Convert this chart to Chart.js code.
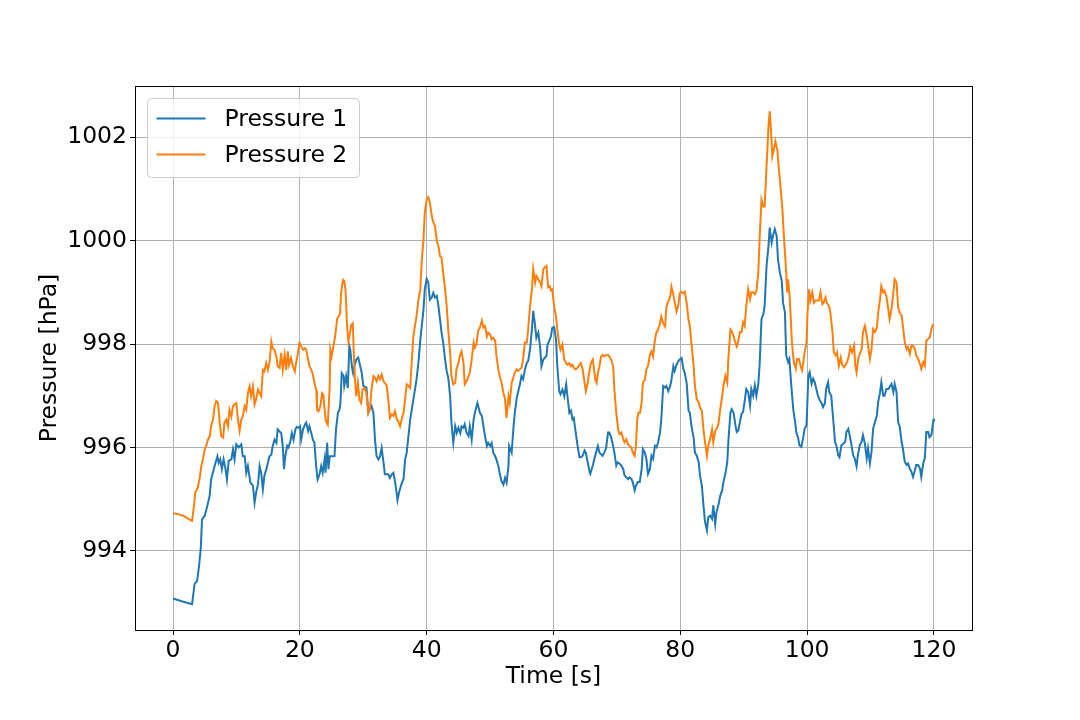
<!DOCTYPE html>
<html>
<head>
<meta charset="utf-8">
<title>Pressure</title>
<script src="https://cdn.jsdelivr.net/npm/chart.js@4.4.1/dist/chart.umd.min.js"></script>
<style>
  body { margin: 0; background: #fff; }
  #wrap { width: 1080px; height: 720px; }
</style>
</head>
<body>
<div id="wrap"><canvas id="pressureChart" width="1080" height="720"></canvas></div>
<script>
// values
const seriesNames = ["Pressure 1", "Pressure 2"];
const seriesColors = ["#1f77b4", "#ff7f0e"];
const xTitle = "Time [s]";
const yTitle = "Pressure [hPa]";

const time1 = [
	0, 1.5, 3.0, 3.4, 3.8, 4.1, 4.36, 4.57, 5.0, 5.4, 5.77, 6.0, 6.56, 7.0, 7.2, 7.45, 7.7, 7.97, 8.24, 8.5,
	8.77, 9.2, 9.45, 9.7, 9.97, 10.35, 10.76, 11.0, 11.3, 11.55, 11.8, 12.2, 12.6, 12.86, 13.1, 13.4, 13.65, 13.9, 14.17, 14.4,
	14.7, 14.96, 15.2, 15.5, 15.7, 16.0, 16.3, 16.5, 16.8, 17.06, 17.3, 17.5, 17.7, 18.0, 18.2, 18.5, 18.74, 19.0, 19.3, 19.5,
	19.8, 20.05, 20.2, 20.5, 20.8, 21.0, 21.3, 21.5, 21.8, 22.05, 22.3, 22.57, 22.8, 23.1, 23.36, 23.6, 23.9, 24.05, 24.3, 24.5,
	24.72, 25.2, 25.46, 25.7, 26.0, 26.25, 26.4, 26.6, 26.9, 27.0, 27.3, 27.56, 27.8, 27.95, 28.2, 28.4, 28.6, 28.9, 29.2, 29.75,
	30.0, 30.5, 30.8, 31.05, 31.3, 31.6, 31.85, 32.1, 32.4, 32.65, 32.9, 33.2, 33.4, 33.95, 34.2, 34.5, 34.75, 35.0, 35.3, 35.4,
	35.7, 36.1, 36.35, 36.6, 36.85, 37.1, 37.4, 37.9, 38.15, 38.4, 38.7, 39.0, 39.2, 39.5, 39.7, 40.0, 40.25, 40.5, 40.8, 41.05,
	41.3, 41.6, 41.85, 42.1, 42.35, 42.6, 42.9, 43.15, 43.4, 43.7, 43.9, 44.2, 44.5, 44.75, 45.0, 45.3, 45.5, 45.8, 46.0, 46.3,
	46.6, 46.8, 47.1, 47.4, 47.6, 48.0, 48.4, 48.7, 48.95, 49.2, 49.5, 49.7, 50.0, 50.25, 50.5, 50.8, 51.0, 51.3, 51.5, 51.8,
	52.1, 52.35, 52.6, 52.9, 53.0, 53.4, 53.7, 53.9, 54.2, 54.4, 54.7, 54.95, 55.2, 55.5, 55.8, 56.0, 56.3, 56.55, 56.8, 57.1,
	57.3, 57.6, 57.9, 58.1, 58.4, 58.6, 58.9, 59.05, 59.3, 59.6, 59.8, 60.1, 60.4, 60.6, 60.9, 61.1, 61.4, 61.7, 62.0, 62.2,
	62.5, 62.75, 63.0, 63.2, 63.5, 63.8, 64.1, 64.3, 64.6, 64.9, 65.1, 65.4, 65.7, 65.8, 66.2, 66.45, 66.7, 67.0, 67.25, 67.5,
	67.75, 68.0, 68.3, 68.6, 68.8, 69.1, 69.35, 69.6, 69.9, 70.1, 70.4, 70.7, 71.0, 71.2, 71.5, 71.75, 72.0, 72.3, 72.5, 72.8,
	73.0, 73.3, 73.6, 73.9, 74.1, 74.4, 74.65, 74.9, 75.2, 75.45, 75.7, 76.0, 76.25, 76.5, 76.8, 77.0, 77.3, 77.6, 77.8, 78.1,
	78.4, 78.6, 78.9, 79.1, 79.4, 79.7, 79.9, 80.2, 80.5, 80.7, 81.0, 81.3, 81.5, 81.8, 82.1, 82.3, 82.6, 82.9, 83.1, 83.4,
	83.65, 83.9, 84.2, 84.4, 84.7, 85.0, 85.2, 85.5, 85.7, 86.0, 86.3, 86.6, 86.8, 87.1, 87.4, 87.6, 87.9, 88.1, 88.4, 88.7,
	88.9, 89.15, 89.4, 89.65, 89.9, 90.2, 90.4, 90.7, 91.0, 91.2, 91.5, 91.75, 92.0, 92.3, 92.5, 92.8, 93.1, 93.3, 93.6, 93.9,
	94.1, 94.4, 94.6, 94.9, 95.2, 95.4, 95.7, 96.0, 96.2, 96.5, 96.7, 97.0, 97.2, 97.5, 97.8, 98.1, 98.3, 98.6, 98.8, 99.1,
	99.35, 99.6, 99.9, 100.2, 100.4, 100.7, 100.95, 101.2, 101.45, 101.7, 102.0, 102.3, 102.5, 102.8, 103.0, 103.3, 103.5, 103.8, 104.1, 104.4,
	104.6, 104.9, 105.1, 105.4, 105.7, 106.0, 106.2, 106.5, 106.7, 107.0, 107.25, 107.5, 107.8, 108.0, 108.3, 108.6, 108.8, 109.1, 109.4, 109.6,
	109.9, 110.15, 110.4, 110.7, 111.0, 111.2, 111.5, 111.7, 112.0, 112.2, 112.5, 112.8, 113.0, 113.3, 113.6, 113.8, 114.1, 114.35, 114.6, 114.9,
	115.1, 115.4, 115.7, 115.9, 116.2, 116.45, 116.7, 117.0, 117.2, 117.5, 117.8, 118.0, 118.3, 118.55, 118.8, 119.1, 119.3, 119.6, 119.9, 120.0
];
const pressure1 = [
	993.08, 993.02, 992.97, 993.36, 993.42, 993.71, 994.03, 994.61, 994.68, 994.87, 995.06, 995.38, 995.64, 995.83, 995.70, 995.77, 995.58, 995.77, 995.61, 995.38,
	995.74, 995.77, 995.96, 995.77, 996.06, 996.00, 996.06, 995.83, 995.83, 995.51, 995.64, 995.32, 995.26, 994.93, 995.13, 995.29, 995.64, 995.51, 995.19, 995.45,
	995.58, 995.70, 995.83, 995.86, 996.02, 996.15, 996.09, 996.35, 996.31, 996.28, 996.03, 995.58, 995.83, 996.03, 996.00, 996.12, 996.28, 996.15, 996.35, 996.40,
	996.38, 996.41, 996.15, 996.35, 996.44, 996.48, 996.32, 996.41, 996.28, 996.15, 996.09, 995.64, 995.38, 995.48, 995.64, 995.51, 995.77, 995.51, 996.09, 995.58,
	995.83, 995.83, 995.83, 996.35, 996.67, 996.73, 996.86, 997.44, 997.38, 997.19, 997.38, 997.15, 997.96, 997.89, 997.57, 997.44, 997.57, 997.70, 997.74, 997.45,
	997.19, 997.16, 996.67, 996.74, 996.80, 996.67, 996.15, 995.83, 995.77, 995.83, 995.99, 995.70, 995.48, 995.48, 995.41, 995.48, 995.51, 995.35, 995.09, 994.98,
	995.16, 995.32, 995.39, 995.77, 995.90, 996.19, 996.54, 996.93, 997.12, 997.32, 997.64, 998.09, 998.32, 998.67, 999.06, 999.26, 999.19, 998.86, 998.90, 998.99,
	998.90, 998.93, 998.74, 998.48, 998.22, 998.03, 997.70, 997.48, 997.35, 996.99, 996.48, 996.09, 996.41, 996.28, 996.38, 996.28, 996.41, 996.38, 996.45, 996.28,
	996.22, 996.41, 996.15, 996.54, 996.67, 996.86, 996.67, 996.61, 996.41, 996.22, 996.03, 996.09, 996.03, 996.09, 995.90, 995.83, 995.77, 995.64, 995.51, 995.35,
	995.28, 995.41, 995.32, 995.64, 996.03, 995.90, 996.41, 996.67, 996.96, 997.06, 997.22, 997.38, 997.32, 997.51, 997.64, 997.67, 997.90, 998.22, 998.64, 998.35,
	998.12, 998.22, 997.93, 997.57, 997.70, 997.73, 997.77, 997.99, 998.05, 998.15, 998.31, 998.33, 998.08, 997.57, 997.09, 997.03, 997.12, 996.99, 997.22, 996.99,
	996.67, 996.71, 996.54, 996.57, 996.29, 996.03, 995.81, 995.81, 995.84, 995.94, 995.90, 995.71, 995.52, 995.49, 995.65, 995.78, 995.90, 996.03, 995.90, 995.87,
	995.84, 995.90, 995.99, 996.29, 996.29, 996.19, 996.06, 995.90, 995.65, 995.71, 995.69, 995.65, 995.58, 995.46, 995.42, 995.39, 995.42, 995.39, 995.33, 995.17,
	995.26, 995.33, 995.33, 995.58, 995.97, 995.90, 995.78, 995.49, 995.58, 995.84, 995.78, 996.03, 996.00, 996.10, 996.29, 996.54, 997.19, 997.16, 997.19, 997.09,
	997.19, 997.31, 997.57, 997.48, 997.60, 997.67, 997.70, 997.73, 997.51, 997.44, 997.25, 996.71, 996.67, 996.38, 996.19, 995.90, 995.84, 995.71, 995.46, 995.26,
	994.88, 994.56, 994.40, 994.65, 994.68, 994.62, 994.88, 994.52, 994.75, 994.88, 995.07, 995.17, 995.33, 995.49, 995.71, 996.16, 996.67, 996.74, 996.67, 996.42,
	996.30, 996.33, 996.49, 996.65, 996.69, 996.94, 997.13, 997.07, 996.81, 997.13, 997.00, 997.20, 997.00, 997.23, 997.58, 998.48, 998.58, 998.74, 999.51, 999.89,
	1000.25, 999.96, 1000.09, 1000.22, 1000.09, 999.64, 999.38, 999.22, 998.80, 998.61, 997.78, 997.65, 997.71, 997.20, 996.75, 996.49, 996.30, 996.17, 996.04, 996.01,
	996.17, 996.36, 996.43, 997.39, 997.46, 997.23, 997.33, 997.26, 997.13, 997.00, 996.91, 996.85, 996.78, 996.85, 997.13, 997.26, 997.07, 997.00, 996.56, 996.11,
	996.04, 995.85, 995.81, 996.04, 996.07, 996.11, 996.30, 996.36, 996.24, 996.04, 995.85, 995.79, 995.63, 995.85, 996.04, 996.11, 996.24, 996.08, 995.79, 995.98,
	995.69, 995.91, 996.36, 996.49, 996.62, 996.88, 997.07, 997.26, 997.00, 997.00, 997.13, 997.13, 997.17, 997.23, 997.07, 997.23, 997.07, 996.49, 996.40, 996.11,
	995.98, 995.72, 995.66, 995.69, 995.59, 995.53, 995.43, 995.56, 995.66, 995.66, 995.59, 995.43, 995.69, 995.79, 996.30, 996.30, 996.20, 996.24, 996.52, 996.56
];

const time2 = [
	0, 0.8, 1.6, 2.4, 3.0, 3.3, 3.5, 3.9, 4.2, 4.46, 4.7, 5.0, 5.2, 5.5, 5.8, 6.0, 6.3, 6.56, 6.8, 7.1,
	7.35, 7.6, 7.9, 8.1, 8.4, 8.66, 8.9, 9.2, 9.45, 9.7, 9.97, 10.2, 10.5, 10.76, 11.0, 11.3, 11.55, 11.8, 12.07, 12.3,
	12.6, 12.86, 13.1, 13.4, 13.65, 13.9, 14.17, 14.4, 14.7, 14.96, 15.2, 15.5, 15.7, 16.0, 16.3, 16.5, 16.8, 17.06, 17.3, 17.6,
	17.85, 18.1, 18.3, 18.6, 18.9, 19.2, 19.4, 19.7, 19.95, 20.2, 20.5, 20.8, 21.0, 21.3, 21.5, 21.8, 22.05, 22.3, 22.6, 22.7,
	22.95, 23.25, 23.5, 23.7, 23.9, 24.1, 24.4, 24.7, 24.8, 25.0, 25.3, 25.56, 25.9, 26.1, 26.35, 26.5, 26.8, 27.0, 27.2, 27.45,
	27.66, 27.9, 28.1, 28.35, 28.5, 28.7, 28.9, 29.15, 29.4, 29.66, 29.9, 30.2, 30.5, 30.8, 31.05, 31.3, 31.6, 31.85, 32.1, 32.4,
	32.65, 32.9, 33.2, 33.4, 33.7, 34.0, 34.2, 34.5, 34.75, 35.0, 35.3, 35.5, 35.8, 36.1, 36.35, 36.6, 36.85, 37.1, 37.4, 37.6,
	37.9, 38.15, 38.4, 38.7, 39.0, 39.2, 39.5, 39.7, 40.0, 40.25, 40.5, 40.8, 41.05, 41.3, 41.6, 41.85, 42.1, 42.35, 42.6, 42.9,
	43.15, 43.4, 43.7, 43.9, 44.2, 44.5, 44.7, 45.0, 45.3, 45.5, 45.8, 46.0, 46.3, 46.6, 46.8, 47.1, 47.4, 47.6, 47.85, 48.1,
	48.4, 48.7, 48.95, 49.2, 49.5, 49.7, 50.0, 50.25, 50.5, 50.8, 51.0, 51.3, 51.5, 51.8, 52.1, 52.35, 52.6, 52.9, 53.1, 53.4,
	53.6, 53.9, 54.2, 54.4, 54.7, 54.95, 55.2, 55.5, 55.8, 56.0, 56.3, 56.6, 56.8, 57.1, 57.3, 57.6, 57.9, 58.1, 58.4, 58.6,
	58.9, 59.15, 59.4, 59.6, 59.8, 60.1, 60.4, 60.6, 60.9, 61.1, 61.4, 61.7, 62.0, 62.2, 62.5, 62.75, 63.0, 63.2, 63.5, 63.8,
	64.1, 64.3, 64.6, 64.9, 65.1, 65.4, 65.7, 65.9, 66.2, 66.4, 66.6, 66.8, 67.0, 67.25, 67.5, 67.75, 68.0, 68.3, 68.6, 68.8,
	69.1, 69.4, 69.6, 69.9, 70.2, 70.4, 70.7, 71.0, 71.2, 71.5, 71.75, 72.0, 72.3, 72.5, 72.8, 73.0, 73.2, 73.4, 73.65, 73.9,
	74.1, 74.4, 74.65, 74.9, 75.2, 75.45, 75.7, 76.0, 76.2, 76.5, 76.8, 77.0, 77.3, 77.6, 77.8, 78.1, 78.4, 78.6, 78.9, 79.1,
	79.4, 79.7, 79.9, 80.2, 80.5, 80.7, 81.0, 81.3, 81.5, 81.8, 82.1, 82.3, 82.6, 82.9, 83.1, 83.4, 83.65, 83.9, 84.2, 84.4,
	84.7, 85.0, 85.2, 85.5, 85.7, 86.0, 86.3, 86.6, 86.8, 87.1, 87.4, 87.6, 87.9, 88.1, 88.4, 88.7, 88.9, 89.1, 89.4, 89.65,
	89.9, 90.15, 90.4, 90.7, 91.0, 91.2, 91.5, 91.75, 92.0, 92.3, 92.5, 92.8, 93.1, 93.3, 93.6, 93.9, 94.1, 94.3, 94.5, 94.75,
	95.0, 95.3, 95.5, 95.8, 96.1, 96.3, 96.5, 96.7, 96.85, 97.0, 97.2, 97.4, 97.6, 97.9, 98.2, 98.4, 98.7, 98.95, 99.2, 99.4,
	99.6, 99.9, 100.06, 100.3, 100.5, 100.8, 101.05, 101.3, 101.6, 101.85, 102.1, 102.4, 102.6, 102.9, 103.1, 103.4, 103.6, 104.0, 104.2, 104.5,
	104.7, 105.0, 105.3, 105.5, 105.8, 106.0, 106.3, 106.6, 106.8, 107.1, 107.4, 107.6, 107.8, 108.05, 108.3, 108.6, 108.8, 109.1, 109.4, 109.6,
	109.9, 110.15, 110.4, 110.7, 111.0, 111.2, 111.5, 111.7, 112.0, 112.2, 112.5, 112.8, 113.0, 113.3, 113.6, 113.8, 114.1, 114.35, 114.6, 114.9,
	115.1, 115.4, 115.7, 115.9, 116.2, 116.45, 116.7, 117.0, 117.2, 117.5, 117.8, 118.0, 118.3, 118.55, 118.8, 119.1, 119.35, 119.6, 119.9, 120.0
];
const pressure2 = [
	994.73, 994.71, 994.68, 994.62, 994.58, 994.87, 995.13, 995.22, 995.41, 995.64, 995.77, 995.96, 996.02, 996.15, 996.22, 996.41, 996.54, 996.80, 996.90, 996.86,
	996.48, 996.22, 996.19, 996.48, 996.54, 996.41, 996.73, 996.60, 996.80, 996.83, 996.86, 996.57, 996.32, 996.54, 996.60, 996.80, 996.73, 997.05, 997.18, 996.99,
	997.18, 996.83, 996.93, 997.12, 997.05, 996.99, 997.50, 997.47, 997.63, 997.50, 997.63, 998.05, 997.92, 997.89, 997.76, 997.57, 997.54, 997.83, 997.50, 997.79,
	997.50, 997.86, 997.60, 997.73, 997.57, 997.47, 997.63, 997.83, 998.02, 997.96, 997.89, 997.92, 997.89, 997.70, 997.57, 997.50, 997.41, 997.25, 997.09, 996.73,
	996.70, 996.80, 997.05, 997.02, 996.73, 996.51, 996.44, 997.18, 997.89, 997.76, 997.96, 998.15, 998.50, 998.53, 998.60, 998.98, 999.24, 999.22, 999.05, 998.34,
	998.05, 998.21, 998.37, 998.40, 997.83, 997.31, 996.99, 997.25, 996.93, 996.86, 997.12, 997.15, 997.05, 996.67, 996.74, 997.12, 997.38, 997.35, 997.28, 997.38,
	997.32, 997.41, 997.28, 997.25, 997.19, 996.86, 996.57, 996.64, 996.61, 996.70, 996.54, 996.51, 996.41, 996.57, 996.67, 996.93, 997.22, 997.19, 997.15, 997.57,
	998.15, 998.35, 998.54, 998.86, 999.06, 999.57, 1000.03, 1000.54, 1000.80, 1000.84, 1000.74, 1000.48, 1000.35, 1000.28, 999.99, 999.89, 999.70, 999.67, 999.38, 999.06,
	998.74, 998.28, 997.83, 997.38, 997.22, 997.25, 997.51, 997.64, 997.80, 997.86, 997.64, 997.22, 997.28, 997.38, 997.45, 997.70, 998.03, 997.93, 998.00, 998.25,
	998.32, 998.45, 998.32, 998.35, 998.15, 998.22, 998.19, 998.09, 998.12, 998.06, 997.77, 997.51, 997.38, 997.25, 997.06, 996.93, 996.57, 996.99, 996.86, 997.25,
	997.32, 997.45, 997.51, 997.48, 997.51, 997.54, 997.70, 998.03, 998.03, 998.28, 998.74, 999.06, 999.45, 999.19, 999.32, 999.25, 999.19, 999.12, 999.45, 999.48,
	999.51, 999.10, 999.12, 999.04, 999.06, 998.72, 998.53, 998.28, 997.99, 997.89, 997.99, 997.70, 997.63, 997.60, 997.63, 997.57, 997.60, 997.54, 997.51, 997.54,
	997.60, 997.63, 997.51, 997.25, 997.09, 997.25, 997.51, 997.63, 997.70, 997.51, 997.31, 997.25, 997.44, 997.57, 997.76, 997.79, 997.76, 997.79, 997.79, 997.76,
	997.70, 997.57, 997.12, 996.67, 996.35, 996.26, 996.29, 996.16, 996.10, 996.16, 996.06, 996.03, 996.00, 995.90, 995.84, 996.03, 996.54, 996.67, 996.67, 996.87,
	997.25, 997.31, 997.51, 997.57, 997.79, 997.86, 997.76, 998.08, 998.21, 998.28, 998.40, 998.53, 998.40, 998.34, 998.72, 998.82, 998.92, 999.11, 998.95, 998.82,
	998.63, 998.76, 998.98, 999.01, 998.98, 999.01, 998.79, 998.47, 998.34, 997.96, 997.57, 997.19, 996.93, 996.87, 996.77, 996.71, 996.35, 996.10, 995.84, 996.03,
	996.16, 996.35, 996.10, 996.32, 996.35, 996.45, 996.74, 996.99, 997.19, 997.38, 997.25, 997.76, 998.28, 998.25, 998.15, 998.02, 997.95, 998.03, 998.23, 998.23,
	998.42, 998.35, 998.74, 999.06, 998.87, 999.00, 999.00, 998.96, 999.03, 999.38, 1000.02, 1000.79, 1000.66, 1000.66, 1001.44, 1002.20, 1002.50, 1002.14, 1001.63, 1001.76,
	1001.92, 1001.76, 1001.44, 1001.05, 1000.60, 1000.15, 999.77, 999.38, 999.00, 999.25, 999.00, 998.55, 998.03, 997.65, 997.52, 997.71, 997.71, 997.58, 997.49, 997.65,
	997.84, 998.03, 998.61, 999.06, 998.84, 999.00, 998.80, 998.84, 998.84, 998.84, 999.00, 998.77, 998.80, 998.90, 998.80, 998.74, 998.67, 998.23, 997.84, 997.78,
	997.84, 997.58, 997.74, 997.61, 997.55, 997.58, 997.65, 997.78, 997.94, 997.84, 997.97, 997.58, 997.45, 997.71, 997.81, 997.90, 998.23, 998.35, 998.16, 997.97,
	997.71, 997.90, 998.29, 998.23, 998.32, 998.61, 998.87, 999.12, 999.00, 999.03, 998.93, 998.67, 998.48, 998.67, 999.00, 999.25, 999.19, 998.71, 998.61, 998.55,
	998.35, 998.03, 997.90, 997.94, 997.81, 997.97, 997.97, 997.90, 997.78, 997.71, 997.62, 997.52, 997.65, 997.58, 998.07, 998.10, 998.13, 998.29, 998.39, 998.39
];

const xTicks = [0, 20, 40, 60, 80, 100, 120];
const yTicks = [994, 996, 998, 1000, 1002];

const fontFamily = "'DejaVu Sans', 'Liberation Sans', sans-serif";
const fontSize = 23.5;

function toPoints(xs, ys) {
	return xs.map((x, i) => ({x: x, y: ys[i]}));
}

// matplotlib-like frame round the plot area
const framePlugin = {
	id: 'frame',
	afterDraw(chart) {
		const ctx = chart.ctx;
		const a = chart.chartArea;
		ctx.save();
		ctx.strokeStyle = '#000';
		ctx.lineWidth = 1;
		ctx.strokeRect(Math.round(a.left) + 0.5, Math.round(a.top) + 0.5, Math.round(a.right - a.left), Math.round(a.bottom - a.top));
		ctx.restore();
	}
};

// legend box in the upper left corner of the axes
const legendPlugin = {
	id: 'boxLegend',
	afterDraw(chart) {
		const ctx = chart.ctx;
		const a = chart.chartArea;
		const bx = a.left + 12.5, by = a.top + 12.5, bw = 212, bh = 79, r = 4;
		ctx.save();
		ctx.beginPath();
		ctx.roundRect(bx, by, bw, bh, r);
		ctx.fillStyle = 'rgba(255,255,255,0.8)';
		ctx.fill();
		ctx.strokeStyle = '#cccccc';
		ctx.lineWidth = 1;
		ctx.stroke();
		ctx.font = fontSize + 'px ' + fontFamily;
		ctx.textBaseline = 'middle';
		ctx.textAlign = 'left';
		seriesNames.forEach((name, i) => {
			const y = by + 20 + i * 36;
			ctx.strokeStyle = seriesColors[i];
			ctx.lineWidth = 2;
			ctx.beginPath();
			ctx.moveTo(bx + 9, y);
			ctx.lineTo(bx + 58, y);
			ctx.stroke();
			ctx.fillStyle = '#000';
			ctx.fillText(name, bx + 77, y + 1);
		});
		ctx.restore();
	}
};

new Chart(document.getElementById("pressureChart"), {
	type: 'line',
	data: {
		datasets: [{
			label: seriesNames[0],
			data: toPoints(time1, pressure1),
			borderColor: seriesColors[0],
			borderWidth: 2,
			pointRadius: 0,
			tension: 0,
			fill: false,
			order: 2
		}, {
			label: seriesNames[1],
			data: toPoints(time2, pressure2),
			borderColor: seriesColors[1],
			borderWidth: 2,
			pointRadius: 0,
			tension: 0,
			fill: false,
			order: 1
		}]
	},
	options: {
		responsive: false,
		animation: false,
		devicePixelRatio: 1,
		layout: {
			padding: {top: 86, right: 108, bottom: 0, left: 0}
		},
		plugins: {
			legend: {display: false},
			tooltip: {enabled: false}
		},
		scales: {
			x: {
				type: 'linear',
				min: -6,
				max: 126,
				afterBuildTicks: (s) => { s.ticks = xTicks.map(v => ({value: v})); },
				afterFit: (s) => { s.height = 90; },
				grid: {color: '#b0b0b0', lineWidth: 1, tickColor: '#000', tickLength: 5},
				border: {display: false},
				ticks: {
					color: '#000',
					font: {family: fontFamily, size: fontSize},
					padding: 2,
					maxRotation: 0,
					callback: (v) => String(v)
				},
				title: {
					display: true,
					text: xTitle,
					color: '#000',
					font: {family: fontFamily, size: fontSize},
					padding: {top: 0, bottom: 29}
				}
			},
			y: {
				type: 'linear',
				min: 992.47,
				max: 1002.99,
				afterBuildTicks: (s) => { s.ticks = yTicks.map(v => ({value: v})); },
				afterFit: (s) => { s.width = 135; },
				grid: {color: '#b0b0b0', lineWidth: 1, tickColor: '#000', tickLength: 5},
				border: {display: false},
				ticks: {
					color: '#000',
					font: {family: fontFamily, size: fontSize},
					padding: 3,
					callback: (v) => String(v)
				},
				title: {
					display: true,
					text: yTitle,
					color: '#000',
					font: {family: fontFamily, size: fontSize},
					padding: {top: 36, bottom: 0}
				}
			}
		}
	},
	plugins: [framePlugin, legendPlugin]
});
</script>
</body>
</html>
